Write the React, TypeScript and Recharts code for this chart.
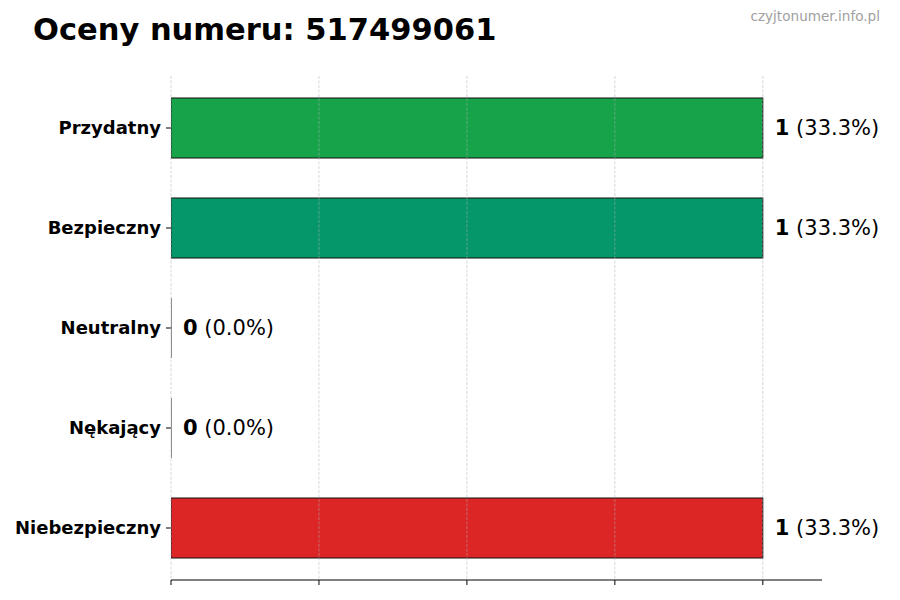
import React from 'react';
import {
    BarChart,
    Bar,
    XAxis,
    YAxis,
    CartesianGrid,
    Cell,
    LabelList
} from 'recharts';

const categories = ['Przydatny', 'Bezpieczny', 'Neutralny', 'Nękający', 'Niebezpieczny'];
const counts = [1, 1, 0, 0, 1];
const colors = ['#16a34a', '#059669', '#6b7280', '#f59e0b', '#dc2626'];
const xTicks = [0, 0.25, 0.5, 0.75, 1];
const xMax = 1.1;

const total = counts.reduce((s, v) => s + v, 0);
const data = categories.map((name, i) => ({ name, count: counts[i] }));

const FONT = '"DejaVu Sans", sans-serif';

// matplotlib-like bar with a black edge; zero bars still show their edge
const BarShape = (props: any) => {
    const { x, y, width, height, fill } = props;
    if (!width || width < 0.5) {
        return <line x1={x} x2={x} y1={y} y2={y + height} stroke="#111" strokeWidth={1} />;
    }
    return <rect x={x} y={y} width={width} height={height} fill={fill} stroke="#111" strokeWidth={1} />;
};

const ValueLabel = (props: any) => {
    const { x, y, width, height, value } = props;
    const pct = total ? ((value / total) * 100).toFixed(1) : '0.0';
    return (
        <text
            x={x + (width || 0) + 12}
            y={y + height / 2}
            dominantBaseline="central"
            fontFamily={FONT}
            fontSize={21}
            fill="#000"
        >
            <tspan fontWeight="bold">{value}</tspan>
            <tspan> ({pct}%)</tspan>
        </text>
    );
};

// grid only at the x ticks (no extra line at the right edge)
const gridXs = (props: any) => {
    const scale = props?.xAxis?.scale;
    if (typeof scale === 'function') {
        return xTicks.map((t) => scale(t));
    }
    const { left, width } = props.offset;
    return xTicks.map((t) => left + (t / xMax) * width);
};

export default function App() {
    return (
        <div style={{ position: 'absolute', left: 0, top: 0, width: 900, height: 600, background: '#fff', fontFamily: FONT }}>
            <div style={{ position: 'absolute', left: 33, top: 15, fontSize: 30.5, lineHeight: 1, fontWeight: 'bold', color: '#000', whiteSpace: 'nowrap' }}>
                Oceny numeru: 517499061
            </div>
            <div style={{ position: 'absolute', right: 20, top: 10, fontSize: 13.6, lineHeight: 1, color: '#a0a0a0', whiteSpace: 'nowrap' }}>
                czyjtonumer.info.pl
            </div>
            <BarChart
                width={900}
                height={600}
                data={data}
                layout="vertical"
                margin={{ top: 76, right: 78, left: 0, bottom: 0 }}
            >
                <XAxis
                    type="number"
                    domain={[0, xMax]}
                    ticks={xTicks}
                    tick={() => <g />}
                    height={20}
                    tickSize={5}
                    stroke="#000"
                    axisLine={{ stroke: '#000', strokeWidth: 1 }}
                    tickLine={{ stroke: '#000', strokeWidth: 1 }}
                    allowDataOverflow
                />
                <YAxis
                    type="category"
                    dataKey="name"
                    width={171}
                    padding={{ top: 2, bottom: 2 }}
                    axisLine={false}
                    stroke="#000"
                    tickLine={{ stroke: '#000', strokeWidth: 1 }}
                    tickSize={5}
                    tickMargin={5}
                    tick={{ fill: '#000', fontSize: 18, fontWeight: 'bold', fontFamily: FONT }}
                />
                <Bar
                    dataKey="count"
                    barSize={60}
                    isAnimationActive={false}
                    shape={BarShape}
                >
                    {data.map((d, i) => (
                        <Cell key={d.name} fill={colors[i]} />
                    ))}
                    <LabelList dataKey="count" content={ValueLabel} />
                </Bar>
                <CartesianGrid
                    horizontal={false}
                    verticalCoordinatesGenerator={gridXs}
                    stroke="#b0b0b0"
                    strokeOpacity={0.5}
                    strokeDasharray="3 1.5"
                    zIndex={1000}
                />
            </BarChart>
        </div>
    );
}
